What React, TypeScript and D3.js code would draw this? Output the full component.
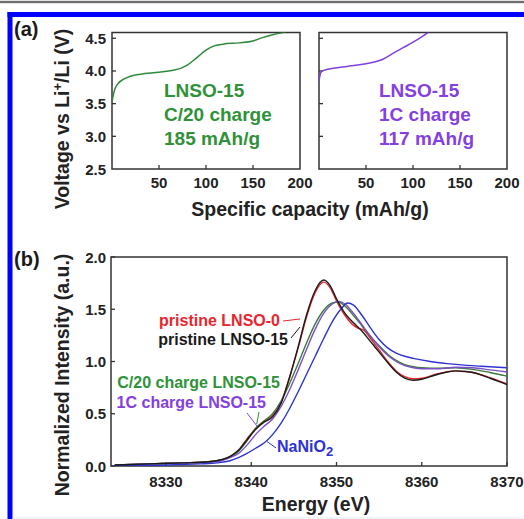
import React from 'react';
import * as d3 from 'd3';

// ---- Panel (a) data ----
const capTicks = [50, 100, 150, 200];
const voltTicks = [2.5, 3.0, 3.5, 4.0, 4.5];
const c20Charge: [number, number][] = [
  [0, 3.52], [1, 3.6], [3, 3.72], [6, 3.8], [12, 3.87], [20, 3.92], [30, 3.95], [50, 3.98],
  [65, 4.01], [73, 4.04], [80, 4.09], [90, 4.2], [100, 4.32], [108, 4.38], [118, 4.41],
  [135, 4.43], [150, 4.46], [160, 4.51], [170, 4.55], [185, 4.6],
];
const oneCCharge: [number, number][] = [
  [0, 3.84], [1, 3.93], [2, 3.98], [5, 4.01], [15, 4.04], [30, 4.07], [45, 4.1], [60, 4.14],
  [68, 4.18], [80, 4.28], [90, 4.36], [100, 4.44], [110, 4.53], [117, 4.6],
];
const c20Label = ['LNSO-15', 'C/20 charge', '185 mAh/g'];
const oneCLabel = ['LNSO-15', '1C charge', '117 mAh/g'];

// ---- Panel (b) data ----
const energyTicks = [8330, 8340, 8350, 8360, 8370];
const intensityTicks = [0, 0.5, 1.0, 1.5, 2.0];
const pristine15: [number, number][] = [
  [8324, 0.01], [8328, 0.02], [8332, 0.03], [8335, 0.04], [8336.5, 0.06], [8337.5, 0.09],
  [8338.5, 0.15], [8339.5, 0.25], [8340.5, 0.35], [8341.5, 0.42], [8342.5, 0.47], [8343.5, 0.6],
  [8344.5, 0.85], [8345.5, 1.14], [8346.5, 1.45], [8347.5, 1.68], [8348.5, 1.78], [8349.3, 1.72],
  [8350, 1.6], [8351, 1.46], [8352, 1.37], [8353, 1.29], [8354, 1.19], [8355, 1.09], [8356, 0.99],
  [8357, 0.9], [8358, 0.84], [8359, 0.82], [8360, 0.83], [8361, 0.855], [8362, 0.88], [8363, 0.9],
  [8364, 0.91], [8365, 0.905], [8366, 0.895], [8367, 0.87], [8368, 0.84], [8369, 0.81], [8370, 0.78],
];
const pristine0: [number, number][] = [
  [8324, 0.01], [8328, 0.02], [8332, 0.03], [8335, 0.04], [8336.5, 0.06], [8337.5, 0.09],
  [8338.5, 0.15], [8339.5, 0.26], [8340.5, 0.36], [8341.5, 0.43], [8342.5, 0.48], [8343.5, 0.61],
  [8344.5, 0.85], [8345.5, 1.13], [8346.5, 1.43], [8347.5, 1.66], [8348.5, 1.76], [8349.3, 1.7],
  [8350, 1.58], [8351, 1.44], [8351.8, 1.36], [8352.5, 1.32], [8353.2, 1.3], [8354, 1.22],
  [8355, 1.11], [8356, 1.0], [8357, 0.91], [8358, 0.855], [8359, 0.835], [8360, 0.84],
  [8362, 0.885], [8364, 0.91], [8366, 0.895], [8368, 0.845], [8370, 0.785],
];
const c20LNSO15: [number, number][] = [
  [8324, 0.01], [8328, 0.02], [8332, 0.03], [8335, 0.04], [8336.5, 0.06], [8337.5, 0.09],
  [8338.5, 0.14], [8339.5, 0.24], [8340.5, 0.36], [8341.5, 0.43], [8342.5, 0.5], [8343.5, 0.62],
  [8344.5, 0.79], [8345.5, 0.98], [8346.5, 1.18], [8347.5, 1.36], [8348.5, 1.49], [8349.5, 1.56],
  [8350.2, 1.57], [8351, 1.53], [8352, 1.44], [8353, 1.34], [8354, 1.24], [8355, 1.15], [8356, 1.07],
  [8357, 1.01], [8358, 0.97], [8359, 0.95], [8360, 0.94], [8362, 0.935], [8364, 0.94], [8366, 0.925],
  [8368, 0.895], [8370, 0.86],
];
const oneCLNSO15: [number, number][] = [
  [8324, 0.01], [8328, 0.02], [8332, 0.03], [8335, 0.035], [8336.5, 0.05], [8337.5, 0.08],
  [8338.5, 0.12], [8339.5, 0.2], [8340.5, 0.3], [8341.5, 0.38], [8342.5, 0.45], [8343.5, 0.57],
  [8344.5, 0.73], [8345.5, 0.92], [8346.5, 1.12], [8347.5, 1.31], [8348.5, 1.46], [8349.5, 1.55],
  [8350.3, 1.575], [8351, 1.55], [8352, 1.46], [8353, 1.35], [8354, 1.24], [8355, 1.14], [8356, 1.06],
  [8357, 1.0], [8358, 0.96], [8359, 0.94], [8360, 0.93], [8362, 0.93], [8364, 0.945], [8366, 0.94],
  [8368, 0.92], [8370, 0.9],
];
const naNiO2: [number, number][] = [
  [8324, 0.005], [8330, 0.01], [8334, 0.02], [8336, 0.03], [8337.5, 0.05], [8338.5, 0.08],
  [8339.5, 0.12], [8340.5, 0.17], [8341.5, 0.22], [8342.5, 0.3], [8343.5, 0.41], [8344.5, 0.55],
  [8345.5, 0.71], [8346.5, 0.88], [8347.5, 1.05], [8348.5, 1.22], [8349.5, 1.38], [8350.5, 1.5],
  [8351.3, 1.56], [8352, 1.54], [8353, 1.44], [8354, 1.32], [8355, 1.21], [8356, 1.13],
  [8357, 1.08], [8358, 1.05], [8359, 1.03], [8361, 1.0], [8363, 0.98], [8365, 0.965],
  [8367, 0.955], [8370, 0.94],
];

const FONT = "'Liberation Sans', Arial, Helvetica, sans-serif";
const RED = '#e8262d';
const BLACK = '#1a1a1a';
const GREEN = '#2f9238';
const PURPLE = '#8440e0';
const BLUE = '#2d33d4';

export default function App() {
  // panel (a) geometry
  const aTop = 32.5, aBot = 169;
  const yV = d3.scaleLinear().domain([2.5, 4.5]).range([aBot, 38.3]);
  const xL = d3.scaleLinear().domain([0, 200]).range([112, 300]);
  const xR = d3.scaleLinear().domain([0, 200]).range([319, 507]);
  // panel (b) geometry
  const bTop = 257, bBot = 466, bLeft = 111, bRight = 507;
  const xE = d3.scaleLinear().domain([8330, 8370]).range([166, 507]);
  const yI = d3.scaleLinear().domain([0, 2]).range([bBot, bTop]);

  const lineL = d3.line<[number, number]>().x(d => xL(d[0])).y(d => yV(d[1])).curve(d3.curveMonotoneX);
  const lineR = d3.line<[number, number]>().x(d => xR(d[0])).y(d => yV(d[1])).curve(d3.curveMonotoneX);
  const lineB = d3.line<[number, number]>().x(d => xE(d[0])).y(d => yI(d[1])).curve(d3.curveMonotoneX);

  const tickFont = { fontFamily: FONT, fontWeight: 700, fontSize: 15 } as const;
  const titleFont = { fontFamily: FONT, fontWeight: 700, fontSize: 19.5 } as const;
  const frameStroke = '#333';

  const xsA = [xL, xR];
  return (
    <svg width={524} height={519} style={{ position: 'fixed', left: 0, top: 0, background: '#fff' }}>
      <defs>
        <clipPath id="clipL"><rect x={112} y={aTop} width={188} height={aBot - aTop} /></clipPath>
        <clipPath id="clipR"><rect x={319} y={aTop} width={188} height={aBot - aTop} /></clipPath>
        <clipPath id="clipB"><rect x={bLeft} y={bTop} width={bRight - bLeft} height={bBot - bTop} /></clipPath>
      </defs>
      <rect x={0} y={0} width={524} height={519} fill="#fff" />
      {/* top gray rule and blue border */}
      <rect x={0} y={0.8} width={524} height={2.4} fill="#6e6e6e" />
      <rect x={7.5} y={12} width={517} height={5} fill="#0000ff" />
      <rect x={7.5} y={12} width={5} height={507} fill="#0000ff" />
      <rect x={12.5} y={517.5} width={512} height={1} fill="#e6e8f2" />

      {/* ---------- Panel (a) ---------- */}
      <text x={14} y={36} style={{ fontFamily: FONT, fontWeight: 700, fontSize: 20 }} fill="#1a1a1a">(a)</text>
      {xsA.map((xs, i) => {
        const [x0, x1] = xs.range();
        return (
          <g key={i}>
            <rect x={x0} y={aTop} width={x1 - x0} height={aBot - aTop} fill="none" stroke={frameStroke} strokeWidth={1.5} />
            {voltTicks.slice(1).map(v => (
              <line key={v} x1={x0} x2={x0 + 4} y1={yV(v)} y2={yV(v)} stroke={frameStroke} strokeWidth={1.3} />
            ))}
            {capTicks.slice(0, 3).map(c => (
              <line key={c} x1={xs(c)} x2={xs(c)} y1={aBot} y2={aBot - 4} stroke={frameStroke} strokeWidth={1.3} />
            ))}
            {capTicks.map(c => (
              <text key={c} x={xs(c)} y={188} textAnchor="middle" style={tickFont} fill="#222">{c}</text>
            ))}
          </g>
        );
      })}
      {voltTicks.map(v => (
        <text key={v} x={106} y={yV(v) + 5.5} textAnchor="end" style={tickFont} fill="#222">{v.toFixed(1)}</text>
      ))}
      <path d={lineL(c20Charge) || ''} fill="none" stroke="#2e8a3a" strokeWidth={1.5} clipPath="url(#clipL)" />
      <path d={lineR(oneCCharge) || ''} fill="none" stroke="#7d42dc" strokeWidth={1.5} clipPath="url(#clipR)" />
      {c20Label.map((t, i) => (
        <text key={t} x={164} y={97 + i * 24} style={{ fontFamily: FONT, fontWeight: 700, fontSize: 19 }} fill={GREEN}>{t}</text>
      ))}
      {oneCLabel.map((t, i) => (
        <text key={t} x={379} y={97 + i * 24} style={{ fontFamily: FONT, fontWeight: 700, fontSize: 19 }} fill={PURPLE}>{t}</text>
      ))}
      <text transform="translate(69,119) rotate(-90)" textAnchor="middle" style={titleFont} fill="#222">
        Voltage vs Li<tspan dy={-7} fontSize={13}>+</tspan><tspan dy={7}>/Li (V)</tspan>
      </text>
      <text x={310} y={216} textAnchor="middle" style={titleFont} fill="#222">Specific capacity (mAh/g)</text>

      {/* ---------- Panel (b) ---------- */}
      <text x={14} y={266} style={{ fontFamily: FONT, fontWeight: 700, fontSize: 20 }} fill="#1a1a1a">(b)</text>
      <rect x={bLeft} y={bTop} width={bRight - bLeft} height={bBot - bTop} fill="none" stroke={frameStroke} strokeWidth={1.5} />
      {intensityTicks.map(v => (
        <g key={v}>
          <line x1={bLeft} x2={bLeft + 4} y1={yI(v)} y2={yI(v)} stroke={frameStroke} strokeWidth={1.3} />
          <text x={106} y={yI(v) + 5.5} textAnchor="end" style={tickFont} fill="#222">{v.toFixed(1)}</text>
        </g>
      ))}
      {energyTicks.map(e => (
        <g key={e}>
          <line x1={xE(e)} x2={xE(e)} y1={bBot} y2={bBot - 4} stroke={frameStroke} strokeWidth={1.3} />
          <text x={xE(e)} y={487} textAnchor="middle" style={tickFont} fill="#222">{e}</text>
        </g>
      ))}
      <g clipPath="url(#clipB)" fill="none" strokeWidth={1.4}>
        <path d={lineB(pristine0) || ''} stroke={RED} />
        <path d={lineB(c20LNSO15) || ''} stroke="#3a7a3a" />
        <path d={lineB(oneCLNSO15) || ''} stroke="#7a50c8" />
        <path d={lineB(naNiO2) || ''} stroke={BLUE} />
        <path d={lineB(pristine15) || ''} stroke={BLACK} />
      </g>
      {/* annotations */}
      <g style={{ fontFamily: FONT, fontWeight: 700, fontSize: 16 }}>
        <text x={280} y={326} textAnchor="end" fill={RED}>pristine LNSO-0</text>
        <text x={288} y={345} textAnchor="end" fill={BLACK}>pristine LNSO-15</text>
        <text x={280} y={388} textAnchor="end" fill={GREEN}>C/20 charge LNSO-15</text>
        <text x={266} y={408} textAnchor="end" fill={PURPLE}>1C charge LNSO-15</text>
        <text x={277} y={452} fill={BLUE}>NaNiO<tspan dy={4} fontSize={13}>2</tspan></text>
      </g>
      <line x1={283} y1={321} x2={300} y2={319} stroke={RED} strokeWidth={1} />
      <line x1={291} y1={338} x2={300} y2={327} stroke={BLACK} strokeWidth={1} />
      <line x1={259} y1={412} x2={256.7} y2={424} stroke={GREEN} strokeWidth={1} />
      <line x1={247} y1={413} x2={257} y2={426} stroke={PURPLE} strokeWidth={1} />
      <line x1={267} y1={441.5} x2={276} y2={448} stroke={BLUE} strokeWidth={1} />
      <text transform="translate(69,375) rotate(-90)" textAnchor="middle" style={titleFont} fill="#222">Normalized Intensity (a.u.)</text>
      <text x={316} y={511} textAnchor="middle" style={titleFont} fill="#222">Energy (eV)</text>
    </svg>
  );
}
